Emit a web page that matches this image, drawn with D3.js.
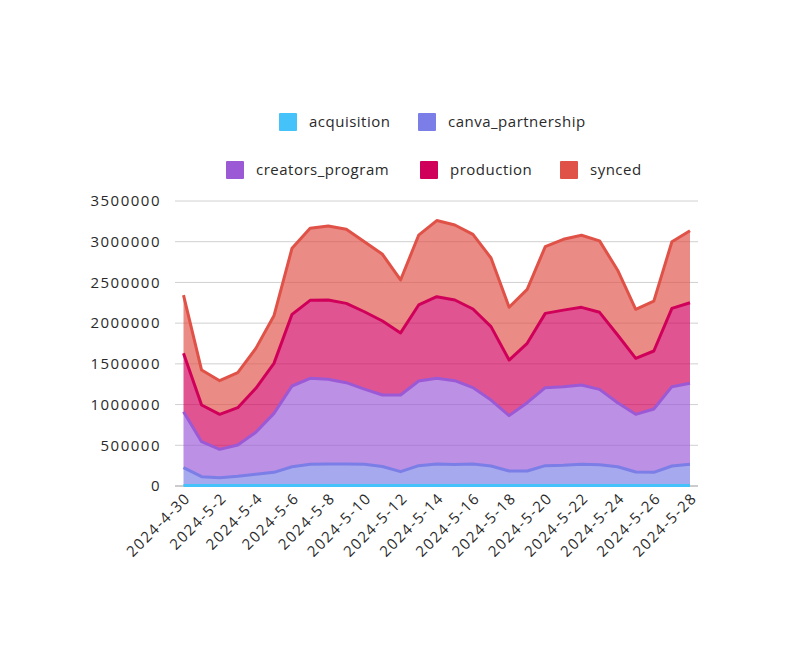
<!DOCTYPE html>
<html>
<head>
<meta charset="utf-8">
<script src="https://cdn.jsdelivr.net/npm/d3@7"></script>
<style>
  body { margin: 0; background: #fff; }
  svg { display: block; }
  text { font-family: "Open Sans", sans-serif; fill: #2a2a2a; }
</style>
</head>
<body>
<svg id="chart" width="792" height="654"></svg>
<script>
const dates = ["2024-4-30","2024-5-1","2024-5-2","2024-5-3","2024-5-4","2024-5-5","2024-5-6","2024-5-7","2024-5-8","2024-5-9","2024-5-10","2024-5-11","2024-5-12","2024-5-13","2024-5-14","2024-5-15","2024-5-16","2024-5-17","2024-5-18","2024-5-19","2024-5-20","2024-5-21","2024-5-22","2024-5-23","2024-5-24","2024-5-25","2024-5-26","2024-5-27","2024-5-28"];
const tickLabels = ["2024-4-30","2024-5-2","2024-5-4","2024-5-6","2024-5-8","2024-5-10","2024-5-12","2024-5-14","2024-5-16","2024-5-18","2024-5-20","2024-5-22","2024-5-24","2024-5-26","2024-5-28"];
const yTicks = [0,500000,1000000,1500000,2000000,2500000,3000000,3500000];

const seriesNames = ["acquisition","canva_partnership","creators_program","production","synced"];
const acquisition = [5000,5000,5000,5000,5000,5000,5000,5000,5000,5000,5000,5000,5000,5000,5000,5000,5000,5000,5000,5000,5000,5000,5000,5000,5000,5000,5000,5000,5000];
const canva_partnership = [220000,110000,97000,115000,138000,163000,232000,261000,265000,265000,261000,235000,171000,245000,265000,260000,265000,241000,179000,179000,245000,249000,261000,255000,232000,167000,163000,241000,261000];
const creators_program = [688000,429000,348000,383000,516000,724000,991000,1056000,1040000,999000,924000,877000,942000,1039000,1052000,1028000,938000,810000,680000,839000,958000,966000,974000,927000,786000,708000,778000,974000,995000];
const production = [717000,451000,430000,459000,541000,614000,880000,958000,975000,974000,950000,909000,762000,934000,1003000,991000,966000,901000,683000,729000,912000,940000,954000,946000,831000,688000,712000,962000,990000];
const synced = [715000,429000,413000,430000,490000,584000,812000,884000,908000,909000,860000,819000,650000,857000,935000,921000,916000,843000,648000,663000,820000,870000,886000,877000,796000,602000,612000,818000,884000];
const colors = ["#45c2fa","#7b7ee6","#9b59d6","#d0005a","#e05248"];

const rows = dates.map((d, i) => ({
  date: d,
  acquisition: acquisition[i],
  canva_partnership: canva_partnership[i],
  creators_program: creators_program[i],
  production: production[i],
  synced: synced[i]
}));

const svg = d3.select("#chart");
const x = d3.scalePoint().domain(dates).range([183.5, 690]);
const y = d3.scaleLinear().domain([0, 3500000]).range([486, 201]);

// gridlines
svg.append("g").selectAll("line").data(yTicks).join("line")
  .attr("x1", 175).attr("x2", 698)
  .attr("y1", d => y(d)).attr("y2", d => y(d))
  .attr("stroke", d => d === 0 ? "#999" : "#d0d0d0")
  .attr("stroke-width", d => d === 0 ? 1.2 : 1);

// y labels
svg.append("g").selectAll("text").data(yTicks).join("text")
  .attr("x", 161).attr("y", d => y(d)).attr("dy", "0.35em")
  .attr("text-anchor", "end")
  .style("font-size", "15px").style("letter-spacing", "1.5px")
  .text(d => d);

const stack = d3.stack().keys(seriesNames);
const layers = stack(rows);

const area = d3.area().x(d => x(d.data.date)).y0(d => y(d[0])).y1(d => y(d[1]));
const line = d3.line().x(d => x(d.data.date)).y(d => y(d[1]));

svg.append("g").selectAll("path").data(layers).join("path")
  .attr("d", area)
  .attr("fill", (d, i) => colors[i])
  .attr("fill-opacity", 0.667);

svg.append("g").selectAll("path").data(layers).join("path")
  .attr("d", line)
  .attr("fill", "none")
  .attr("stroke", (d, i) => colors[i])
  .attr("stroke-width", 3)
  .attr("stroke-linejoin", "round");

// x labels
svg.append("g").selectAll("text").data(tickLabels).join("text")
  .attr("text-anchor", "end")
  .attr("transform", d => `translate(${x(d) + 8},${499}) rotate(-45)`)
  .style("font-size", "15px").style("letter-spacing", "1.5px")
  .text(d => d);

// legend
const legendItems = [
  {name: "acquisition", sx: 279, sy: 113},
  {name: "canva_partnership", sx: 418, sy: 113},
  {name: "creators_program", sx: 226, sy: 161},
  {name: "production", sx: 420, sy: 161},
  {name: "synced", sx: 560, sy: 161}
];
const lg = svg.append("g").selectAll("g").data(legendItems).join("g")
  .attr("transform", d => `translate(${d.sx},${d.sy})`);
lg.append("rect").attr("width", 18).attr("height", 18).attr("rx", 1)
  .attr("fill", d => colors[seriesNames.indexOf(d.name)]);
lg.append("text").attr("x", 30).attr("y", 9).attr("dy", "0.35em")
  .style("font-size", "15px").style("letter-spacing", "0.5px")
  .text(d => d.name);
</script>
</body>
</html>
